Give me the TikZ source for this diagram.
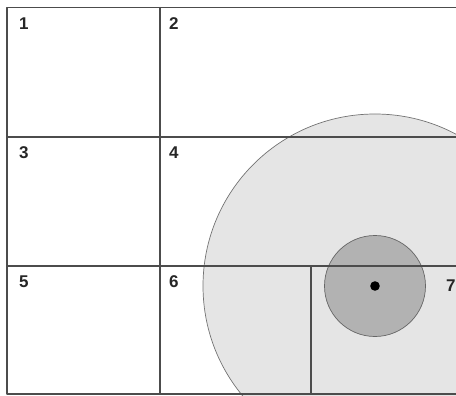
\documentclass[tikz,border=0pt]{standalone}
\usepackage{fontspec}
\setmainfont{Liberation Sans}
\begin{document}
\begin{tikzpicture}[x=1pt, y=-1pt, font=\fontsize{17}{17}\selectfont\bfseries, line join=round, line cap=round]
				\useasboundingbox (0,0) rectangle (456,396);
				\clip (0,0) rectangle (456,396);
				\path
				(375,286) coordinate (O)
				(7,7.5) coordinate (TL)
				(7,394) coordinate (BL)
				(160,7.5) coordinate (M)
				(311,266) coordinate (K)
				;
				\draw[black!55, fill=black!10, line width=.7] (O) circle (172);
				\draw[black!60, fill=black!30, line width=.7] (O) circle (50.5);
				\fill (O) circle (4.8);
				\draw[black!70, line width=1.3]
				(460,7.5)--(TL)--(BL)--(460,394)
				(M)--(M|-BL)
				(7,137)--(460,137)
				(7,266)--(460,266)
				(K)--(K|-BL)
				;
				\foreach \n/\x/\y in {1/19/24,2/169/24,3/19/153,4/169/153,5/19/282,6/169/282,7/446/286}
				\node[anchor=west, inner sep=0, text=black!85] (c\n) at (\x,\y) {\n};
		\end{tikzpicture}
\end{document}
